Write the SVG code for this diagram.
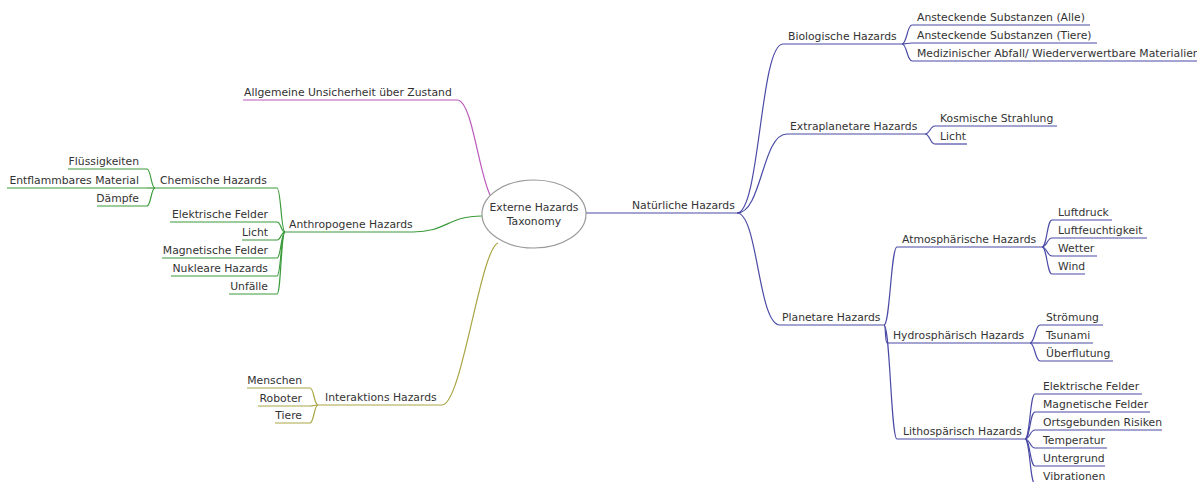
<svg xmlns="http://www.w3.org/2000/svg" width="1197" height="482" viewBox="0 0 1197 482">
<style>
.t{font-family:"DejaVu Sans","Liberation Sans",sans-serif;font-size:10.8px;fill:#333}
.e{text-anchor:end}
.c{text-anchor:middle}
.b{stroke:#4a4aa6;stroke-width:1.2;fill:none}
.g{stroke:#3a9a3a;stroke-width:1.2;fill:none}
.m{stroke:#bb5abb;stroke-width:1.2;fill:none}
.o{stroke:#aaa544;stroke-width:1.2;fill:none}
</style>
<rect width="1197" height="482" fill="#fff"/>
<g id="connectors">
<path class="m" d="M457,100 C472,100 478,170 490,195"/>
<path class="g" d="M413,232 C447,232 447,216 482,216"/>
<path class="o" d="M442,405 C462,405 480,250 498,243"/>
<path class="b" d="M586,213 L632,213"/>
<path class="g" d="M285,232 C281,232 281,188 277,188"/>
<path class="g" d="M285,232 C281,232 281,222 277,222"/>
<path class="g" d="M285,232 C281,232 281,240 277,240"/>
<path class="g" d="M285,232 C281,232 281,258 277,258"/>
<path class="g" d="M285,232 C281,232 281,276 277,276"/>
<path class="g" d="M285,232 C281,232 281,294 277,294"/>
<path class="g" d="M155,188 C151,188 151,169 147,169"/>
<path class="g" d="M155,188 L147,188"/>
<path class="g" d="M155,188 C151,188 151,206 147,206"/>
<path class="o" d="M318,405 C314,405 314,388 310,388"/>
<path class="o" d="M318,405 C314,405 314,406 310,406"/>
<path class="o" d="M318,405 C314,405 314,423 310,423"/>
<path class="b" d="M737,213 C760,213 760,44 783,44"/>
<path class="b" d="M737,213 C762,213 762,134 787,134"/>
<path class="b" d="M737,213 C758,213 758,325 780,325"/>
<path class="b" d="M902,44 C907,44 907,25 912,25"/>
<path class="b" d="M902,44 C907,44 907,43 912,43"/>
<path class="b" d="M902,44 C907,44 907,61 912,61"/>
<path class="b" d="M925,134 C930,134 930,126 935,126"/>
<path class="b" d="M925,134 C930,134 930,144 935,144"/>
<path class="b" d="M884,325 C890,325 891,247 897,247"/>
<path class="b" d="M884,325 C886,325 885,343 887,343"/>
<path class="b" d="M884,325 C890,325 891,439 897,439"/>
<path class="b" d="M1042,247 C1047,247 1047,220 1052,220"/>
<path class="b" d="M1042,247 C1047,247 1047,238 1052,238"/>
<path class="b" d="M1042,247 C1047,247 1047,256 1052,256"/>
<path class="b" d="M1042,247 C1047,247 1047,274 1052,274"/>
<path class="b" d="M1030,343 C1035,343 1035,325 1040,325"/>
<path class="b" d="M1030,343 L1040,343"/>
<path class="b" d="M1030,343 C1035,343 1035,361 1040,361"/>
<path class="b" d="M1025,439 C1030,439 1030,394 1035,394"/>
<path class="b" d="M1025,439 C1030,439 1030,412 1035,412"/>
<path class="b" d="M1025,439 C1030,439 1030,430 1035,430"/>
<path class="b" d="M1025,439 C1030,439 1030,448 1035,448"/>
<path class="b" d="M1025,439 C1030,439 1030,466 1035,466"/>
<path class="b" d="M1025,439 C1030,439 1030,484 1035,484"/>
</g>
<g id="root">
<ellipse cx="534" cy="214" rx="52" ry="34" fill="#fff" stroke="#999" stroke-width="1.2"/>
<text class="t c" x="534" y="211">Externe Hazards</text>
<text class="t c" x="534" y="225">Taxonomy</text>
</g>
<g id="allgemeine"><path class="m" d="M243,100 H457"/><text class="t" x="244" y="96">Allgemeine Unsicherheit über Zustand</text></g>
<g id="anthropogene"><path class="g" d="M285,232 H413"/><text class="t" x="289" y="228">Anthropogene Hazards</text></g>
<g id="chemische"><path class="g" d="M155,188 H277"/><text class="t" x="160" y="184">Chemische Hazards</text></g>
<g id="fluessigkeiten"><path class="g" d="M68,169 H147"/><text class="t e" x="139" y="165">Flüssigkeiten</text></g>
<g id="entflammbares"><path class="g" d="M7,188 H147"/><text class="t e" x="139" y="184">Entflammbares Material</text></g>
<g id="daempfe"><path class="g" d="M97,206 H147"/><text class="t e" x="139" y="202">Dämpfe</text></g>
<g id="a-elektrische"><path class="g" d="M170,222 H277"/><text class="t e" x="268" y="218">Elektrische Felder</text></g>
<g id="a-licht"><path class="g" d="M242,240 H277"/><text class="t e" x="268" y="236">Licht</text></g>
<g id="a-magnetische"><path class="g" d="M162,258 H277"/><text class="t e" x="268" y="254">Magnetische Felder</text></g>
<g id="nukleare"><path class="g" d="M171,276 H277"/><text class="t e" x="268" y="272">Nukleare Hazards</text></g>
<g id="unfaelle"><path class="g" d="M229,294 H277"/><text class="t e" x="268" y="290">Unfälle</text></g>
<g id="interaktions"><path class="o" d="M318,405 H442"/><text class="t" x="325" y="401">Interaktions Hazards</text></g>
<g id="menschen"><path class="o" d="M247,388 H310"/><text class="t e" x="302" y="384">Menschen</text></g>
<g id="roboter"><path class="o" d="M258,406 H310"/><text class="t e" x="302" y="402">Roboter</text></g>
<g id="tiere"><path class="o" d="M275,423 H310"/><text class="t e" x="302" y="419">Tiere</text></g>
<g id="natuerliche"><path class="b" d="M632,213 H737"/><text class="t" x="632" y="209">Natürliche Hazards</text></g>
<g id="biologische"><path class="b" d="M783,44 H902"/><text class="t" x="788" y="40">Biologische Hazards</text></g>
<g id="bio-alle"><path class="b" d="M912,25 H1090"/><text class="t" x="917" y="21">Ansteckende Substanzen (Alle)</text></g>
<g id="bio-tiere"><path class="b" d="M912,43 H1097"/><text class="t" x="917" y="39">Ansteckende Substanzen (Tiere)</text></g>
<g id="bio-abfall"><path class="b" d="M912,61 H1197"/><text class="t" x="917" y="57">Medizinischer Abfall/ Wiederverwertbare Materialien</text></g>
<g id="extraplanetare"><path class="b" d="M787,134 H925"/><text class="t" x="790" y="130">Extraplanetare Hazards</text></g>
<g id="kosmische"><path class="b" d="M935,126 H1057"/><text class="t" x="940" y="122">Kosmische Strahlung</text></g>
<g id="e-licht"><path class="b" d="M935,144 H967"/><text class="t" x="940" y="140">Licht</text></g>
<g id="planetare"><path class="b" d="M780,325 H884"/><text class="t" x="782" y="321">Planetare Hazards</text></g>
<g id="atmosphaerische"><path class="b" d="M897,247 H1042"/><text class="t" x="902" y="243">Atmosphärische Hazards</text></g>
<g id="luftdruck"><path class="b" d="M1052,220 H1112"/><text class="t" x="1058" y="216">Luftdruck</text></g>
<g id="luftfeuchtigkeit"><path class="b" d="M1052,238 H1147"/><text class="t" x="1058" y="234">Luftfeuchtigkeit</text></g>
<g id="wetter"><path class="b" d="M1052,256 H1097"/><text class="t" x="1058" y="252">Wetter</text></g>
<g id="wind"><path class="b" d="M1052,274 H1085"/><text class="t" x="1058" y="270">Wind</text></g>
<g id="hydrosphaerisch"><path class="b" d="M887,343 H1030"/><text class="t" x="893" y="339">Hydrosphärisch Hazards</text></g>
<g id="stroemung"><path class="b" d="M1040,325 H1103"/><text class="t" x="1046" y="321">Strömung</text></g>
<g id="tsunami"><path class="b" d="M1040,343 H1093"/><text class="t" x="1046" y="339">Tsunami</text></g>
<g id="ueberflutung"><path class="b" d="M1040,361 H1113"/><text class="t" x="1046" y="357">Überflutung</text></g>
<g id="lithosphaerisch"><path class="b" d="M897,439 H1025"/><text class="t" x="903" y="435">Lithospärisch Hazards</text></g>
<g id="l-elektrische"><path class="b" d="M1035,394 H1142"/><text class="t" x="1043" y="390">Elektrische Felder</text></g>
<g id="l-magnetische"><path class="b" d="M1035,412 H1150"/><text class="t" x="1043" y="408">Magnetische Felder</text></g>
<g id="ortsgebunden"><path class="b" d="M1035,430 H1162"/><text class="t" x="1043" y="426">Ortsgebunden Risiken</text></g>
<g id="temperatur"><path class="b" d="M1035,448 H1107"/><text class="t" x="1043" y="444">Temperatur</text></g>
<g id="untergrund"><path class="b" d="M1035,466 H1105"/><text class="t" x="1043" y="462">Untergrund</text></g>
<g id="vibrationen"><path class="b" d="M1035,484 H1105"/><text class="t" x="1043" y="480">Vibrationen</text></g>
</svg>
